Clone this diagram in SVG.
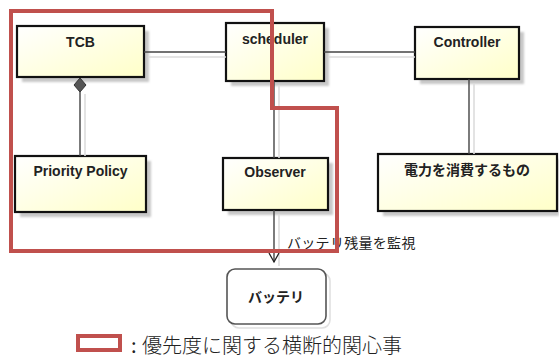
<svg xmlns="http://www.w3.org/2000/svg" width="559" height="360" viewBox="0 0 559 360">
<defs>
<linearGradient id="g" x1="0" y1="0" x2="1" y2="1">
<stop offset="0" stop-color="#ffffff"/>
<stop offset="1" stop-color="#ffffc8"/>
</linearGradient>
<filter id="blur" x="-10%" y="-10%" width="130%" height="130%"><feGaussianBlur stdDeviation="1.2"/></filter>
<marker id="open" markerWidth="12" markerHeight="12" refX="10" refY="6" orient="auto" markerUnits="userSpaceOnUse">
<path d="M1,1 L10,6 L1,11" fill="none" stroke="#222" stroke-width="1.3"/>
</marker>
<style>
.box{fill:url(#g);stroke:#111;stroke-width:2.2}
.sh{fill:#c8c8c8;filter:url(#blur)}
.lbl{font-family:"Liberation Sans","Noto Sans CJK JP",sans-serif;font-weight:bold;font-size:14px;fill:#222;text-anchor:middle}
.jp{font-family:"Noto Sans CJK JP",sans-serif;fill:#222}
.ln{stroke:#444;stroke-width:1.4;fill:none}
.lsh{stroke:#dcdcdc;stroke-width:1.6;fill:none}
.red{fill:none;stroke:#c0504d;stroke-width:4}
</style>
</defs>
<rect width="559" height="360" fill="#ffffff"/>
<g id="TCB">
<rect class="sh" x="22" y="31" width="127" height="51"/>
<rect class="box" x="17" y="26" width="127" height="51"/>
<text class="lbl" x="80.5" y="47">TCB</text>
</g>
<g id="scheduler">
<rect class="sh" x="231" y="28" width="98" height="58"/>
<rect class="box" x="226" y="23" width="98" height="58"/>
<text class="lbl" x="275" y="44">scheduler</text>
</g>
<g id="Controller">
<rect class="sh" x="420" y="32" width="104" height="52"/>
<rect class="box" x="415" y="27" width="104" height="52"/>
<text class="lbl" x="467" y="47">Controller</text>
</g>
<g id="PriorityPolicy">
<rect class="sh" x="20" y="161" width="131" height="56"/>
<rect class="box" x="15" y="156" width="131" height="56"/>
<text class="lbl" x="80.5" y="176">Priority Policy</text>
</g>
<g id="Observer">
<rect class="sh" x="228" y="163" width="105" height="52"/>
<rect class="box" x="223" y="158" width="105" height="52"/>
<text class="lbl" x="275" y="177">Observer</text>
</g>
<g id="Consumer">
<rect class="sh" x="383" y="159" width="176" height="57"/>
<rect class="box" x="378" y="154" width="179" height="57"/>
<text class="lbl" x="467" y="175" font-size="15">電力を消費するもの</text>
</g>
<g id="Battery">
<rect x="231" y="273" width="99" height="55" rx="8" fill="none" stroke="#e0e0e0" stroke-width="1.6"/>
<rect x="227" y="269" width="99" height="55" rx="8" fill="#ffffff" stroke="#555" stroke-width="1.6"/>
<text class="lbl" x="276" y="302">バッテリ</text>
</g>
<g id="connectors">
<path class="lsh" d="M149,57 H226 M329,57 H415 M279,86 V158 M279,215 V266 M474,84 V154 M85,94 V156"/>
<line class="ln" x1="144" y1="52" x2="226" y2="52"/>
<line class="ln" x1="324" y1="52" x2="415" y2="52"/>
<line class="ln" x1="274" y1="81" x2="274" y2="158"/>
<line class="ln" x1="469" y1="79" x2="469" y2="154"/>
<line class="ln" x1="80" y1="92" x2="80" y2="156"/>
<path d="M80,78 L86,85 L80,92 L74,85 Z" fill="#555" stroke="#333" stroke-width="1"/>
<line class="ln" x1="274" y1="210" x2="274" y2="262" marker-end="url(#open)"/>
<text class="jp" x="287" y="248" font-size="14" letter-spacing="0.3">バッテリ残量を監視</text>
</g>
<g id="concern">
<path class="red" d="M11,11 H272 V108 H337 V251 H11 Z"/>
</g>
<g id="legend">
<rect x="78" y="336" width="42" height="14" fill="none" stroke="#c0504d" stroke-width="4"/>
<text class="jp" x="131" y="353" font-size="20">:</text>
<text class="jp" x="142" y="353" font-size="20" font-weight="300">優先度に関する横断的関心事</text>
</g>
</svg>
